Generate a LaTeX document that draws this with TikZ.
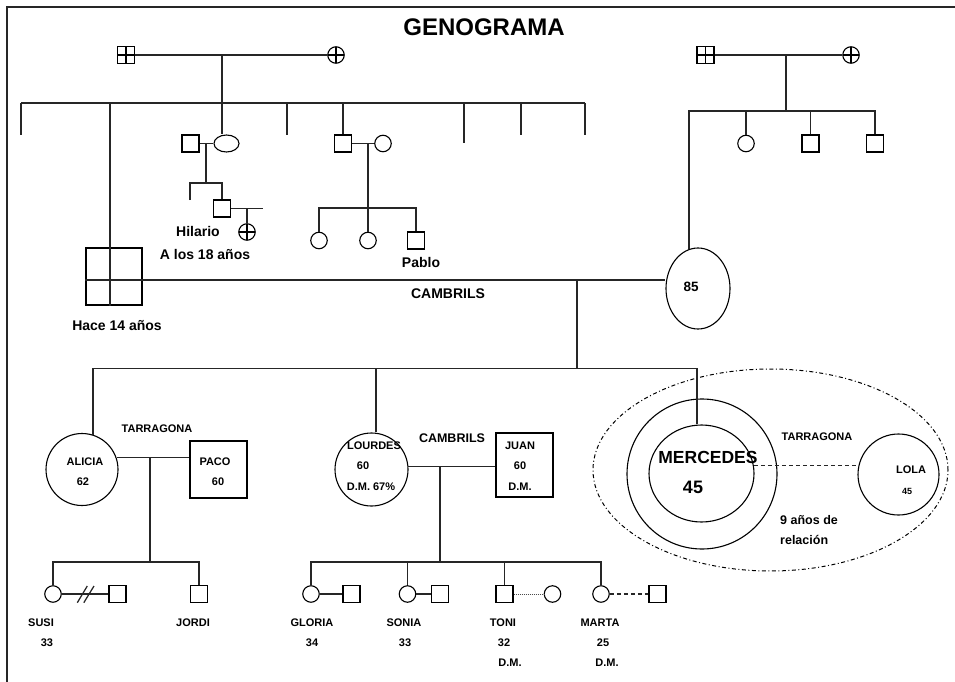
\documentclass[tikz,border=0pt]{standalone}
\usepackage{fontspec}
\setmainfont{Liberation Sans}
\usetikzlibrary{shapes.geometric}
\begin{document}
\begin{tikzpicture}[x=1pt,y=-1pt,
  ln/.style={line width=1.25pt, black!85},
  crossp/.style={path picture={\draw[line width=1.1pt] (path picture bounding box.north) -- (path picture bounding box.south) (path picture bounding box.west) -- (path picture bounding box.east);}},
  sq/.style={draw, line width=1.1pt, rectangle, minimum size=17pt, inner sep=0pt},
  ci/.style={draw, line width=1.1pt, circle, minimum size=16.5pt, inner sep=0pt},
  xsq/.style={sq, crossp},
  xci/.style={ci, crossp},
  el/.style={draw, line width=1.1pt, ellipse, inner sep=0pt},
  t/.style={font=\bfseries\fontsize{11}{13}\selectfont, inner sep=0pt},
  tm/.style={font=\bfseries\fontsize{14}{16}\selectfont, inner sep=0pt},
  ts/.style={font=\bfseries\fontsize{9}{11}\selectfont, inner sep=0pt},
  tb/.style={font=\bfseries\fontsize{17.5}{20}\selectfont, inner sep=0pt}]
\useasboundingbox (0,0) rectangle (955,682);
\draw[line width=2.8pt, black!85] (7,682) -- (7,7) -- (955,7);
\node[font=\bfseries\fontsize{24}{28}\selectfont, inner sep=0pt] (title) at (484,27) {GENOGRAMA};

% ---------- top-left grandparents ----------
\node[xsq] (gf1) at (126,55) {};
\node[xci] (gm1) at (336,55) {};
\draw[ln] (gf1) -- (gm1);
\coordinate (j1) at (222,55);
\coordinate (s1) at (222,103);
\draw[ln] (j1) -- (s1);
\coordinate (s1a) at (21,103);
\coordinate (s1h) at (585,103);
\draw[ln] (s1a) -- (s1h);
\foreach \x/\e in {21/135,287/135,464/143,521/135,585/135}{
  \coordinate (p\x) at (\x,103);
  \coordinate (q\x) at (\x,\e);
  \draw[ln] (p\x) -- (q\x);
}

% couple 1
\node[sq] (u1) at (190.5,143.5) {};
\node[el, minimum width=25pt, minimum height=17pt] (w1) at (226.5,143.5) {};
\draw[ln] (u1) -- (w1);
\draw[ln] (s1) -- (s1 |- w1.north);
\coordinate (c1) at (206,143.5);
\coordinate (c1b) at (206,183);
\draw[ln] (c1) -- (c1b);
\node[sq] (hil) at (222,208.5) {};
\coordinate (h1) at (190,183);
\coordinate (h1e) at (190,200);
\draw[ln] (h1e) -- (h1) -- (hil.north |- h1) -- (hil.north);
\coordinate (hp) at (263,208.5);
\draw[ln] (hil.east) -- (hp);
\node[xci] (hw) at (247,232) {};
\draw[ln] (hw.north |- hil.east) -- (hw.north);
\node[tm] (lhil) at (198,231) {Hilario};
\node[tm] (l18) at (205,254) {A los 18 años};

% couple 2
\node[sq] (u2) at (343,143.5) {};
\node[ci] (w2) at (383,143.5) {};
\coordinate (p343) at (343,103);
\draw[ln] (p343) -- (u2.north);
\draw[ln] (u2) -- (w2);
\coordinate (c2) at (368,143.5);
\coordinate (c2b) at (368,208);
\draw[ln] (c2) -- (c2b);
\node[ci] (k1) at (319,240.5) {};
\node[ci] (k2) at (368,240.5) {};
\node[sq] (pablo) at (416,240.5) {};
\draw[ln] (k1.north) |- (pablo.north |- c2b) -- (pablo.north);
\draw[ln] (c2b) -- (k2.north);
\node[tm] (lpab) at (421,262) {Pablo};

% big square and marriage
\node[draw, line width=1.1pt, minimum width=56pt, minimum height=57pt, inner sep=0pt] (bs) at (114,276.5) {};
\coordinate (s1b) at (110,103);
\draw[ln] (s1b) -- (s1b |- bs.south);
\coordinate (m1) at (110,280);
\node[el, minimum width=64pt, minimum height=81pt] (e85) at (698,288.5) {};
\draw[ln] (bs.west |- m1) -- (e85.west |- m1);
\node[font=\bfseries\fontsize{13.5}{15}\selectfont, inner sep=0pt] (l85) at (691,287) {85};
\node[tm] (lhace) at (117,326) {Hace 14 años};
\node[tm] (lcam1) at (448,294) {CAMBRILS};

% ---------- top-right grandparents ----------
\node[xsq] (gf2) at (705.5,55) {};
\node[xci] (gm2) at (851,55) {};
\draw[ln] (gf2) -- (gm2);
\coordinate (j2) at (786,55);
\coordinate (s2) at (786,111);
\draw[ln] (j2) -- (s2);
\node[ci] (r1) at (746,143.5) {};
\node[sq] (r2) at (810.5,143.5) {};
\node[sq] (r3) at (875,143.5) {};
\coordinate (s2a) at (689,111);
\draw[ln] (s2a |- e85.103) -- (s2a) -- (r3.north |- s2a) -- (r3.north);
\draw[ln] (r1.north |- s2a) -- (r1.north);
\draw[ln] (r2.north |- s2a) -- (r2.north);

% ---------- second generation ----------
\coordinate (m2) at (577,280);
\coordinate (m2b) at (577,368.5);
\draw[ln] (m2) -- (m2b);
\node[ci, minimum size=72pt] (ali) at (82,469.5) {};
\node[ci, minimum size=73pt] (lou) at (371.5,469.5) {};
\node[draw, line width=1pt, ellipse, minimum width=355pt, minimum height=202pt, inner sep=0pt,
      dash pattern=on 4pt off 2.5pt on 1pt off 2.5pt] (rel) at (770.5,470) {};
\node[ci, minimum size=150pt] (merO) at (702,474) {};
\node[el, minimum width=105pt, minimum height=97pt] (mer) at (701.5,473.5) {};
\coordinate (g2a) at (93,368.5);
\coordinate (g2l) at (376,368.5);
\coordinate (g2m) at (697,368.5);
\draw[ln] (g2a |- ali.72) -- (g2a) -- (g2m) -- (g2m |- mer.north);
\draw[ln] (g2l) -- (g2l |- lou.north);

% Alicia - Paco
\node[sq, minimum size=57pt] (paco) at (218.5,469.5) {};
\draw[ln] (ali.19) -- (paco.west |- ali.19);
\coordinate (a1) at (150,458);
\coordinate (a2) at (150,562);
\draw[ln] (a1) -- (a2);
\node[ci] (susi) at (53,594) {};
\node[sq] (susih) at (117.5,594) {};
\node[sq] (jordi) at (199,594) {};
\draw[ln] (susi.north) |- (a2) -| (jordi.north);
\draw[ln] (susi) -- (susih);
\draw[ln] (77.3,602.7) -- (87.3,586) (83.8,602.7) -- (94,586);
\node[t] (ltar1) at (157,429) {TARRAGONA};
\node[t] (lali) at (85,462) {ALICIA};
\node[t] (l62) at (83,482) {62};
\node[t] (lpaco) at (215,462) {PACO};
\node[t] (l60p) at (218,482) {60};
\node[t] (lsusi) at (41,623) {SUSI};
\node[t] (l33s) at (47,643) {33};
\node[t] (ljor) at (193,623) {JORDI};

% Lourdes - Juan
\node[draw, line width=1.1pt, minimum width=57pt, minimum height=64pt, inner sep=0pt] (juan) at (524.5,465) {};
\draw[ln] (lou.5) -- (juan.west |- lou.5);
\coordinate (b1) at (440,466.3);
\coordinate (b2) at (440,562);
\draw[ln] (b1) -- (b2);
\node[ci] (glo) at (311,594) {};
\node[sq] (gloh) at (351.5,594) {};
\node[ci] (son) at (407.5,594) {};
\node[sq] (sonh) at (440,594) {};
\node[sq] (toni) at (504.5,594) {};
\node[ci] (tonw) at (552.5,594) {};
\node[ci] (mar) at (601,594) {};
\node[sq] (marh) at (657.5,594) {};
\draw[ln] (glo.north) |- (b2) -| (mar.north);
\draw[ln] (son.north |- b2) -- (son.north);
\draw[ln] (toni.north |- b2) -- (toni.north);
\draw[ln] (glo) -- (gloh);
\draw[ln] (son) -- (sonh);
\draw[line width=0.7pt, black!70, dash pattern=on 1pt off 1pt] (toni) -- (tonw);
\draw[ln, dash pattern=on 4pt off 3pt] (mar) -- (marh);
\node[t] (llou) at (374,446) {LOURDES};
\node[t] (l60l) at (363,466) {60};
\node[t] (ldml) at (371,487) {D.M. 67\%};
\node[font=\bfseries\fontsize{12.5}{14}\selectfont, inner sep=0pt] (lcam2) at (452,438) {CAMBRILS};
\node[t] (ljuan) at (520,446) {JUAN};
\node[t] (l60j) at (520,466) {60};
\node[t] (ldmj) at (520,487) {D.M.};
\node[t] (lglo) at (312,623) {GLORIA};
\node[t] (l34) at (312,643) {34};
\node[t] (lson) at (404,623) {SONIA};
\node[t] (l33o) at (405,643) {33};
\node[t] (ltoni) at (503,623) {TONI};
\node[t] (l32) at (504,643) {32};
\node[t] (ldmt) at (510,663) {D.M.};
\node[t] (lmar) at (600,623) {MARTA};
\node[t] (l25) at (603,643) {25};
\node[t] (ldmm) at (607,663) {D.M.};

% Mercedes - Lola
\node[ci, minimum size=81pt] (lola) at (898.5,474.5) {};
\draw[ln, dash pattern=on 4pt off 3pt] (mer.9) -- (lola.west |- mer.9);
\node[tb] (lmer) at (708,457) {MERCEDES};
\node[font=\bfseries\fontsize{18}{20}\selectfont, inner sep=0pt] (l45m) at (693,487) {45};
\node[t] (ltar2) at (817,437) {TARRAGONA};
\node[t] (llola) at (911,470) {LOLA};
\node[ts] (l45l) at (907,491) {45};
\node[font=\bfseries\fontsize{12.5}{14}\selectfont, inner sep=0pt, anchor=west] (l9) at (780,520) {9 años de};
\node[font=\bfseries\fontsize{12.5}{14}\selectfont, inner sep=0pt, anchor=west] (lrel) at (780,540) {relación};
\end{tikzpicture}
\end{document}
